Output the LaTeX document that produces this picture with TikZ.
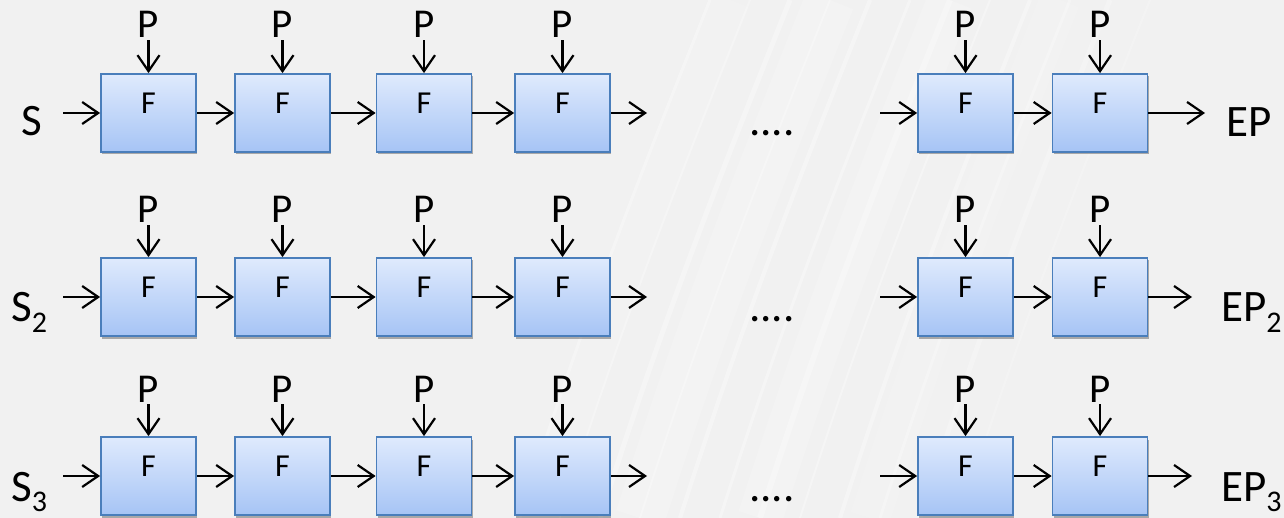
\documentclass[tikz,border=0pt]{standalone}
\usepackage{fontspec}
\setmainfont{Carlito}
\usetikzlibrary{arrows.meta,shadows}
\definecolor{bg}{HTML}{F1F1F1}
\definecolor{boxtop}{HTML}{DFEAFD}
\definecolor{boxbot}{HTML}{A6C4F5}
\definecolor{boxline}{HTML}{4A7EBB}
\newcommand\fsz[1]{\fontsize{#1}{#1}\selectfont}
\newcommand\subx[1]{\raisebox{-10pt}{\fsz{30}#1}}
\begin{document}
\begin{tikzpicture}[x=1pt,y=-1pt,
  fbox/.style={draw=boxline, line width=1.8pt, top color=boxtop, bottom color=boxbot,
    minimum width=95pt, minimum height=78pt, inner sep=0pt, font=\fsz{32}, text depth=20pt,
    drop shadow={shadow xshift=1pt, shadow yshift=-2.5pt, opacity=0.3, fill=black}},
  plabel/.style={font=\fsz{41}, inner sep=0pt, anchor=base},
  biglabel/.style={font=\fsz{45}, inner sep=0pt, anchor=base west},
  arr/.style={-{Straight Barb[length=16pt,width=22pt]}, line width=2.2pt},
]
\useasboundingbox (0,0) rectangle (1284,518);
\fill[bg] (0,0) rectangle (1284,518);
% faint background streaks
\foreach \sx/\w/\o in {540/40/0.12, 640/50/0.15, 760/45/0.15, 870/40/0.12} {
  \draw[white, line width=\w pt, opacity=\o] (\sx,518) .. controls (\sx+60,330) and (\sx+110,200) .. (\sx+190,0);
}
\foreach \sx/\w/\o in {520/3/0.3, 560/2/0.25, 600/5/0.3, 640/2/0.25, 680/4/0.35, 720/3/0.3, 760/6/0.25, 800/2/0.3, 840/4/0.3, 880/3/0.25, 920/5/0.25, 960/2/0.2} {
  \draw[white, line width=\w pt, opacity=\o] (\sx,518) .. controls (\sx+60,330) and (\sx+110,200) .. (\sx+190,0);
}
\foreach \r/\y/\pb/\sb/\eb/\xe in {1/113/38/136/137/1205, 2/297/223/322/322/1192, 3/476/402/501/501/1192} {
  \foreach \k/\x in {1/148.5,2/282.5,3/424,4/562.5,5/965.5,6/1100} {
    \node[fbox] (b\r\k) at (\x,\y) {F};
    \node[plabel] (p\r\k) at (\x,\pb) {P};
    \draw[arr, shorten <=2pt] (p\r\k.south) -- (b\r\k.north);
  }
  \coordinate (in\r) at (63,\y);
  \coordinate (o\r) at (647,\y);
  \coordinate (i\r) at (880,\y);
  \coordinate (x\r) at (\xe,\y);
  \draw[arr] (in\r) -- (b\r1.west);
  \draw[arr] (b\r1.east) -- (b\r2.west);
  \draw[arr] (b\r2.east) -- (b\r3.west);
  \draw[arr] (b\r3.east) -- (b\r4.west);
  \draw[arr] (b\r4.east) -- (o\r);
  \draw[arr] (i\r) -- (b\r5.west);
  \draw[arr] (b\r5.east) -- (b\r6.west);
  \draw[arr] (b\r6.east) -- (x\r);
  \node[biglabel] (d\r) at (749,\sb) {....};
}
\node[biglabel] (s1) at (21,136) {S};
\node[biglabel] (s2) at (11,322) {S\subx{2}};
\node[biglabel] (s3) at (11,501) {S\subx{3}};
\node[biglabel] (e1) at (1226,137) {EP};
\node[biglabel] (e2) at (1221,322) {EP\subx{2}};
\node[biglabel] (e3) at (1221,501) {EP\subx{3}};
\end{tikzpicture}
\end{document}
